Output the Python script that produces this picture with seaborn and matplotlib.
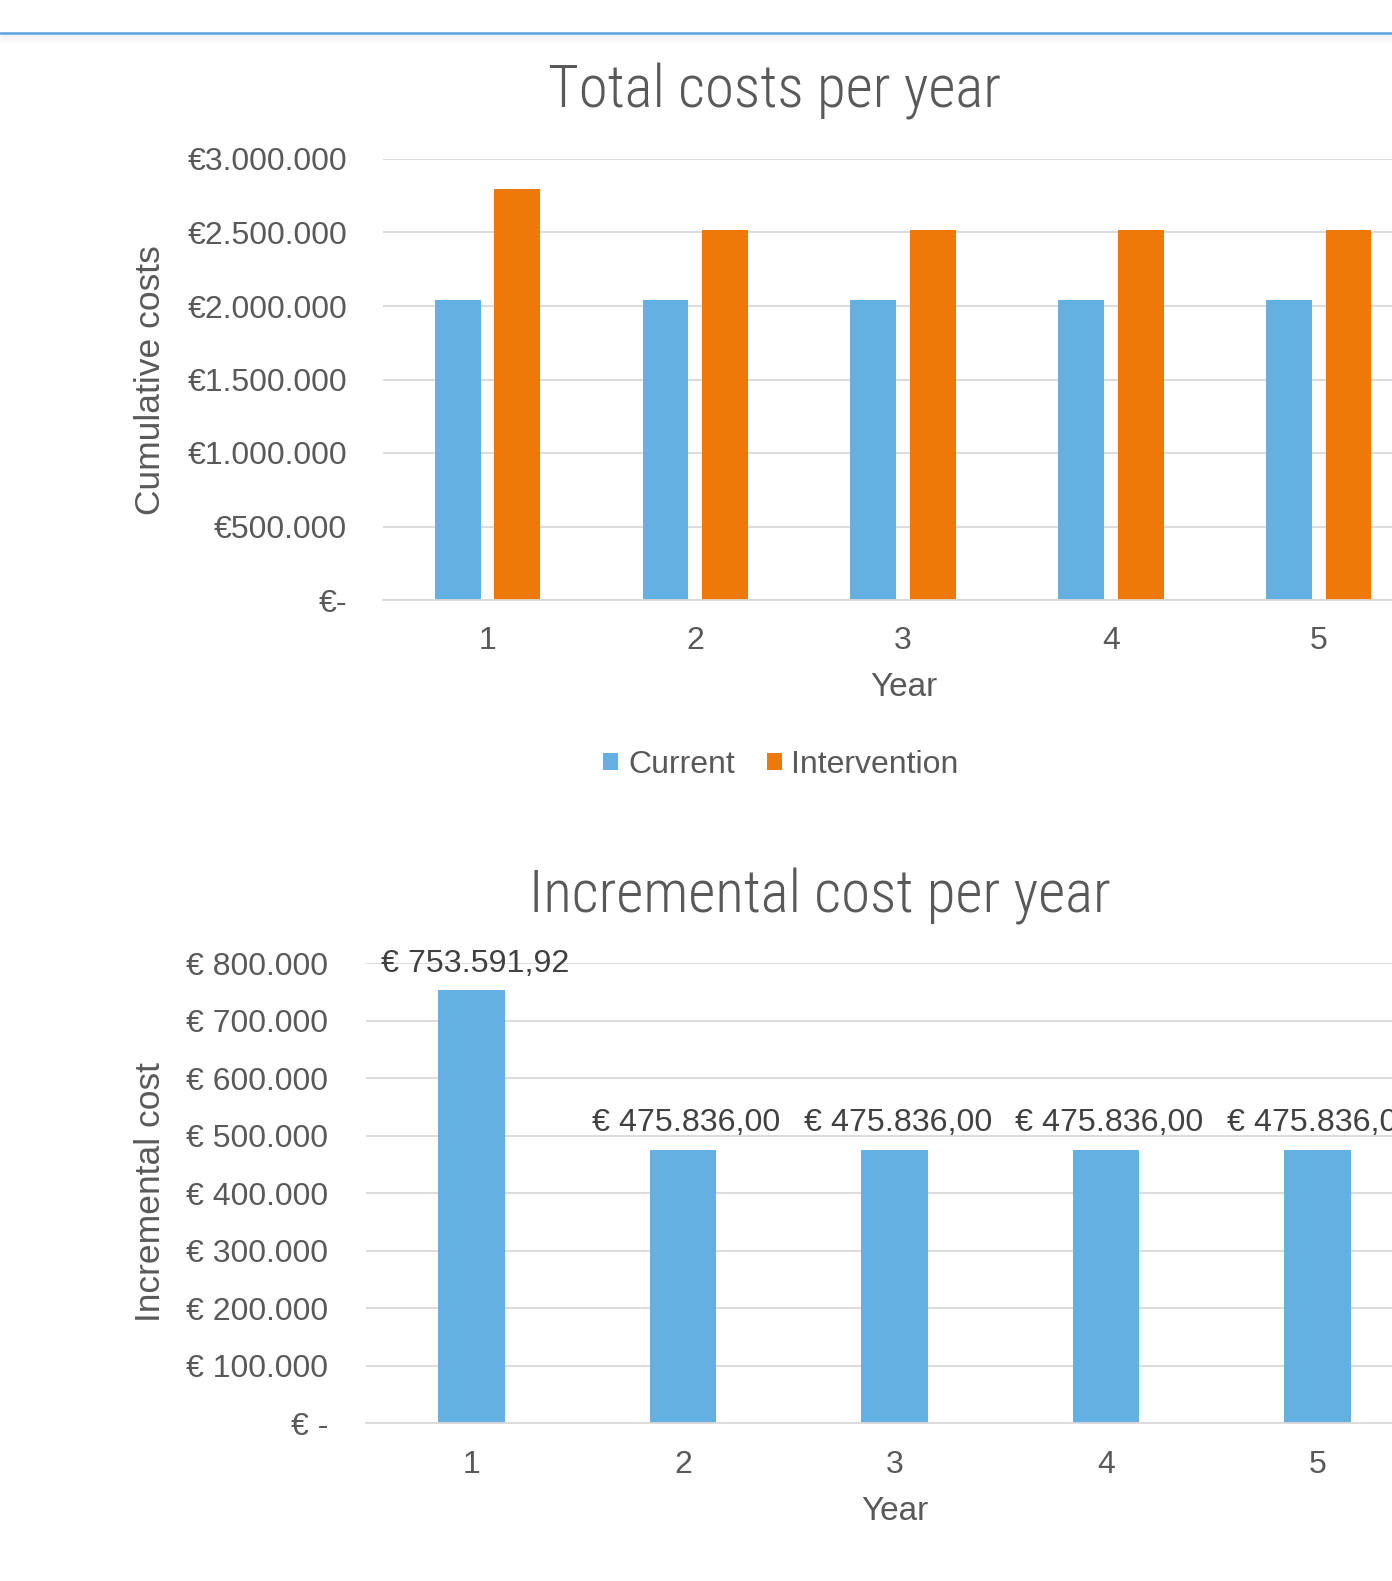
import matplotlib
matplotlib.use("Agg")
import matplotlib.pyplot as plt
import seaborn as sns
import pandas as pd
from matplotlib import font_manager
from matplotlib.lines import Line2D
from matplotlib.patches import Rectangle
from matplotlib.ticker import FuncFormatter, MultipleLocator

# ---- data -------------------------------------------------------------
years = ["1", "2", "3", "4", "5"]
series_names = ["Current", "Intervention"]
current_costs = [2040000, 2040000, 2040000, 2040000, 2040000]
intervention_costs = [2793592, 2515836, 2515836, 2515836, 2515836]
incremental_costs = [753591.92, 475836.00, 475836.00, 475836.00, 475836.00]

# ---- style ------------------------------------------------------------
BLUE = "#63B0E3"
ORANGE = "#EE7808"
GRID = "#D9D9D9"
TEXT = "#595959"
LABEL = "#404040"

sns.set_theme(style="white")
plt.rcParams["font.family"] = ["Liberation Sans", "DejaVu Sans"]

available = {(f.name, f.stretch, f.weight) for f in font_manager.fontManager.ttflist}
names = {n for n, _, _ in available}
if "Liberation Sans Narrow" in names:
    title_kw = dict(family=["Liberation Sans Narrow", "DejaVu Sans"])
elif "Roboto Condensed" in names:
    light = any(n == "Roboto Condensed" and w in (300, "light") for n, _, w in available)
    title_kw = dict(family=["Roboto Condensed", "DejaVu Sans"],
                    fontweight="light" if light else "normal")
elif ("DejaVu Sans", "condensed") in {(n, s) for n, s, _ in available}:
    title_kw = dict(family=["DejaVu Sans"], fontstretch="condensed")
else:
    title_kw = dict(family=["Liberation Sans", "DejaVu Sans"])

W, H = 1392, 1581
fig = plt.figure(figsize=(W / 100, H / 100), dpi=100)


def box(left, top, right, bottom):
    return [left / W, 1 - bottom / H, (right - left) / W, (bottom - top) / H]


def fig_xy(x, y):
    return x / W, 1 - y / H


def eur_compact(v, _):
    return "€-" if v == 0 else "€" + f"{int(round(v)):,}".replace(",", ".")


def eur_spaced(v, _):
    return "€ -" if v == 0 else "€ " + f"{int(round(v)):,}".replace(",", ".")


def eur_value(v):
    s = f"{v:,.2f}"
    return "€ " + s.replace(",", "#").replace(".", ",").replace("#", ".")


def style_axes(ax, ypad, xpad):
    for s in ["top", "right", "left"]:
        ax.spines[s].set_visible(False)
    ax.spines["bottom"].set_color(GRID)
    ax.spines["bottom"].set_linewidth(1.3)
    ax.grid(axis="y", color=GRID, linewidth=1.3)
    ax.grid(axis="x", visible=False)
    ax.set_axisbelow(True)
    ax.tick_params(axis="both", length=0, labelsize=23, labelcolor=TEXT)
    ax.tick_params(axis="y", pad=ypad)
    ax.tick_params(axis="x", pad=xpad)
    ax.set_xlabel("")
    ax.set_ylabel("")
    ax.set_xlim(-0.5, 4.5)


# ---- top line across the page ----------------------------------------
fig.add_artist(Line2D([0, 1], [fig_xy(0, 33)[1]] * 2, transform=fig.transFigure,
                      color="#5BA3DE", linewidth=1.8))
for i in range(1, 10):
    fig.add_artist(Line2D([0, 1], [fig_xy(0, 34 + i)[1]] * 2, transform=fig.transFigure,
                          color="#000000", alpha=0.06 * (1 - i / 10), linewidth=0.75))

# ---- chart 1: total costs per year ------------------------------------
ax1 = fig.add_axes(box(383.3, 159, 383.3 + 1039.5, 600))
df_total = pd.DataFrame({
    "Year": years * 2,
    "Cost": current_costs + intervention_costs,
    "Scenario": [series_names[0]] * len(years) + [series_names[1]] * len(years),
})
sns.barplot(data=df_total, x="Year", y="Cost", hue="Scenario",
            palette=[BLUE, ORANGE], width=0.571, gap=0.226, saturation=1,
            errorbar=None, linewidth=0, legend=False, ax=ax1)
ax1.set_ylim(0, 3000000)
ax1.yaxis.set_major_locator(MultipleLocator(500000))
ax1.yaxis.set_major_formatter(FuncFormatter(eur_compact))
style_axes(ax1, ypad=26, xpad=19)

fig.text(*fig_xy(775, 92), "Total costs per year", ha="center", va="center",
         fontsize=42.5, color=TEXT, **title_kw)
fig.text(*fig_xy(151, 380), "Cumulative costs", rotation=90, ha="center",
         va="center", fontsize=25.5, color=TEXT)
fig.text(*fig_xy(903.5, 688), "Year", ha="center", va="center",
         fontsize=24, color=TEXT)

handles = [Rectangle((0, 0), 1, 1, facecolor=BLUE, edgecolor="none"),
           Rectangle((0, 0), 1, 1, facecolor=ORANGE, edgecolor="none")]
fig.legend(handles, series_names, loc="center", bbox_to_anchor=fig_xy(781, 765),
           ncol=2, frameon=False, fontsize=23, labelcolor=TEXT,
           handlelength=0.47, handleheight=0.47, handletextpad=0.3,
           columnspacing=1.0, borderpad=0)

# ---- chart 2: incremental cost per year -------------------------------
ax2 = fig.add_axes(box(365.7, 963.3, 365.7 + 1057.5, 1423.3))
df_inc = pd.DataFrame({"Year": years, "Incremental": incremental_costs})
sns.barplot(data=df_inc, x="Year", y="Incremental", color=BLUE, width=0.315,
            saturation=1, errorbar=None, linewidth=0, ax=ax2)
ax2.set_ylim(0, 800000)
ax2.yaxis.set_major_locator(MultipleLocator(100000))
ax2.yaxis.set_major_formatter(FuncFormatter(eur_spaced))
style_axes(ax2, ypad=27, xpad=19)

for patch, value in zip(ax2.patches, incremental_costs):
    ax2.annotate(eur_value(value),
                 xy=(patch.get_x() + patch.get_width() / 2, value),
                 xytext=(2.5, 13.2), textcoords="offset points",
                 ha="center", va="baseline", fontsize=23.2, color=LABEL,
                 annotation_clip=False)

fig.text(*fig_xy(820, 896), "Incremental cost per year", ha="center", va="center",
         fontsize=42.5, color=TEXT, **title_kw)
fig.text(*fig_xy(151, 1192.5), "Incremental cost", rotation=90, ha="center",
         va="center", fontsize=25.5, color=TEXT)
fig.text(*fig_xy(894.5, 1512), "Year", ha="center", va="center",
         fontsize=24, color=TEXT)

fig.savefig("out.png", dpi=100, facecolor="white")
